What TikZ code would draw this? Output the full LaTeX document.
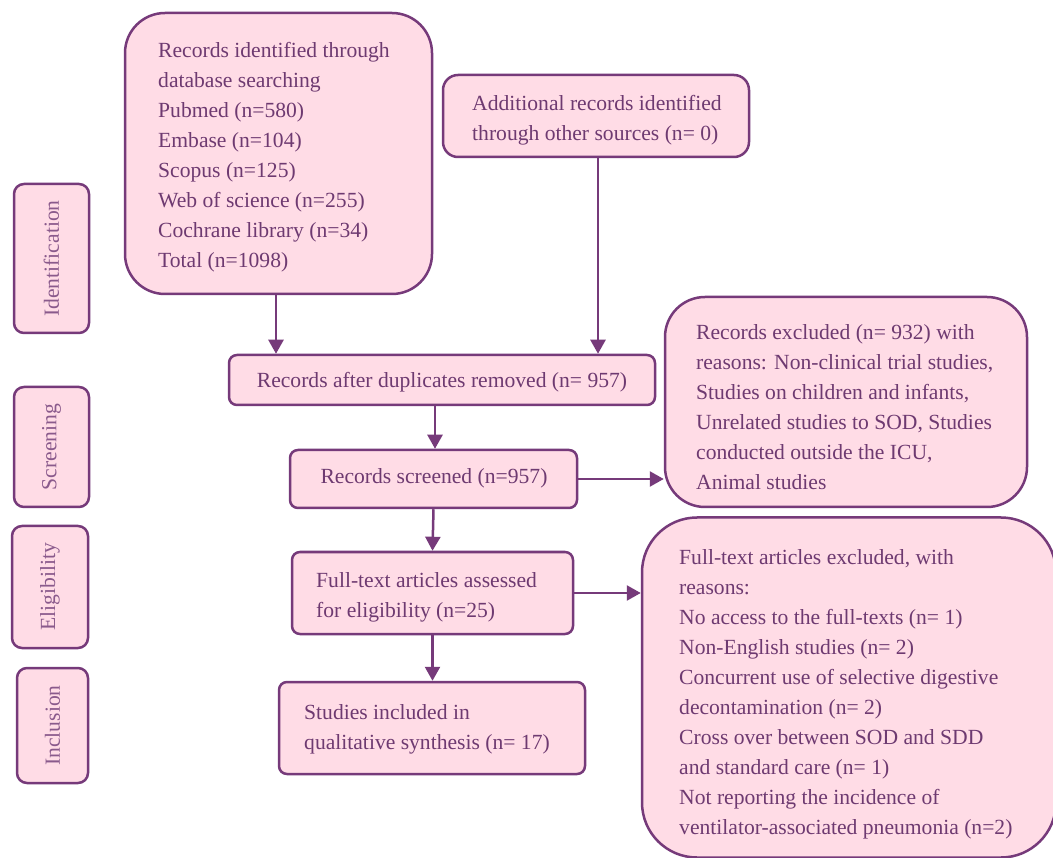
\documentclass[tikz,border=0pt]{standalone}
\usepackage{fontspec}
\setmainfont{Liberation Serif}
\usetikzlibrary{arrows.meta}
\definecolor{boxfill}{HTML}{FFDCE6}
\definecolor{boxdraw}{HTML}{763A7A}
\definecolor{txt}{HTML}{6E3A71}
\definecolor{labtxt}{HTML}{8A5A8C}
\tikzset{
  box/.style={draw=boxdraw, fill=boxfill, line width=2.5pt, inner sep=0pt},
  txtnode/.style={anchor=west, align=left, inner sep=0pt, text=txt,
    font=\fontsize{21.6}{30}\selectfont},
  ctxt/.style={text=txt, font=\fontsize{21.6}{30}\selectfont},
  stage/.style={box, rotate=90, rounded corners=10pt, text=labtxt,
    font=\fontsize{21.6}{26}\selectfont},
  arr/.style={draw=boxdraw, line width=2.5pt, -{Triangle[width=15pt,length=14pt]}}
}
\begin{document}
\begin{tikzpicture}[x=1pt,y=-1pt]
\useasboundingbox (0,0) rectangle (1053,858);
\clip (0,0) rectangle (1053,858);
\fill[white] (0,0) rectangle (1053,858);

% stage labels
\node[stage, minimum width=149pt, minimum height=75pt] (lid) at (51.5,258.5) {Identification};
\node[stage, minimum width=120pt, minimum height=75pt] (lsc) at (51.5,447) {Screening};
\node[stage, minimum width=122pt, minimum height=76pt] (lel) at (50,587) {Eligibility};
\node[stage, minimum width=115pt, minimum height=71pt] (lin) at (52.5,725.5) {Inclusion};

% boxes
\node[box, rounded corners=40pt, minimum width=307pt, minimum height=281pt] (A) at (278.5,153.5) {};
\node[txtnode] (tA) at (158,157.5) {Records identified through\\database searching\\Pubmed (n=580)\\Embase (n=104)\\Scopus (n=125)\\Web of science (n=255)\\Cochrane library (n=34)\\Total (n=1098)};

\node[box, rounded corners=15pt, minimum width=306pt, minimum height=82pt] (B) at (596,116) {};
\node[txtnode] (tB) at (472,120.5) {Additional records identified\\through other sources (n= 0)};

\node[box, rounded corners=8pt, minimum width=426pt, minimum height=50pt] (D) at (442,380) {};
\node[ctxt] (tD) at (442,382.5) {Records after duplicates removed (n= 957)};

\node[box, rounded corners=8pt, minimum width=287pt, minimum height=58pt] (S) at (433.5,479) {};
\node[ctxt] (tS) at (434,478.5) {Records screened (n=957)};

\node[box, rounded corners=40pt, minimum width=362pt, minimum height=210pt] (E1) at (846,402) {};
\node[txtnode] (tE1) at (696,407.5) {Records excluded (n= 932) with\\reasons: Non-clinical trial studies,\\Studies on children and infants,\\Unrelated studies to SOD, Studies\\conducted outside the ICU,\\Animal studies};

\node[box, rounded corners=8pt, minimum width=281pt, minimum height=82pt] (F) at (432.5,593) {};
\node[txtnode] (tF) at (316,597) {Full-text articles assessed\\for eligibility (n=25)};

\node[box, rounded corners=55pt, minimum width=414pt, minimum height=340pt] (E2) at (849,687.5) {};
\node[txtnode] (tE2) at (679,694) {Full-text articles excluded, with\\reasons:\\No access to the full-texts (n= 1)\\Non-English studies (n= 2)\\Concurrent use of selective digestive\\decontamination (n= 2)\\Cross over between SOD and SDD\\and standard care (n= 1)\\Not reporting the incidence of\\ventilator-associated pneumonia (n=2)};

\node[box, rounded corners=8pt, minimum width=306pt, minimum height=92pt] (I) at (432,728) {};
\node[txtnode] (tI) at (304,729.5) {Studies included in\\qualitative synthesis (n= 17)};

% connectors
\coordinate (c1) at (276,0);
\coordinate (c2) at (598,0);
\coordinate (c3) at (435,0);
\draw[arr] (A.south -| c1) -- (D.north -| c1);
\draw[arr] (B.south -| c2) -- (D.north -| c2);
\draw[arr] (D.south -| c3) -- (S.north -| c3);
\draw[arr] (S.east) -- (S.east -| E1.west);
\draw[arr] (S.south) -- (F.north);
\draw[arr] (F.east) -- (F.east -| E2.west);
\draw[arr] (F.south) -- (F.south |- I.north);
\end{tikzpicture}
\end{document}
